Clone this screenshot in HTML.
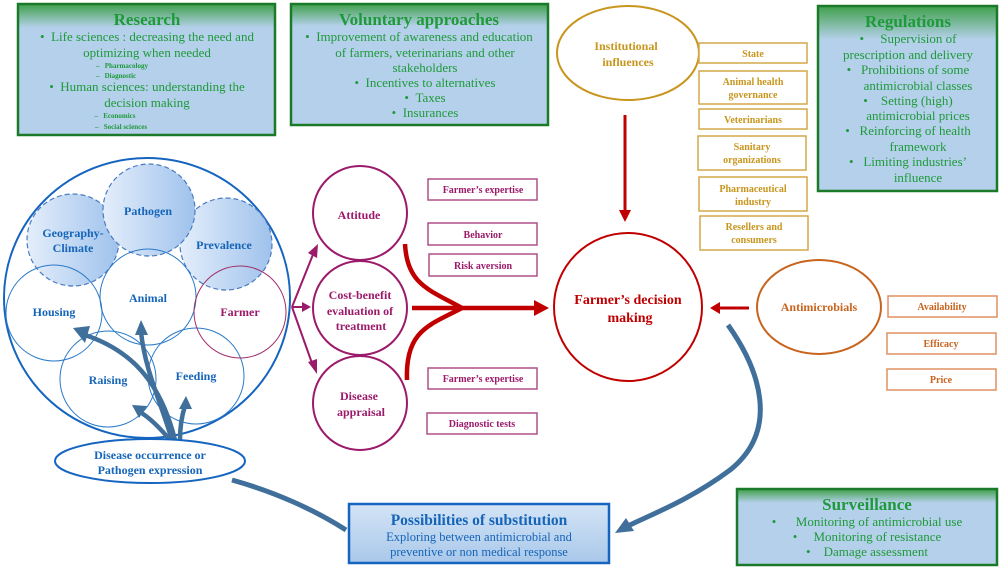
<!DOCTYPE html>
<html><head><meta charset="utf-8"><style>
html,body{margin:0;padding:0;background:#fff}
svg text{font-family:"Liberation Serif",serif}
</style></head><body>
<svg width="1000" height="568" viewBox="0 0 1000 568" xmlns="http://www.w3.org/2000/svg">
<defs>
<linearGradient id="gb" x1="0" y1="0" x2="0" y2="1">
<stop offset="0" stop-color="#3fa04a"/><stop offset="0.18" stop-color="#b4d0ea"/><stop offset="1" stop-color="#b4d0ea"/>
</linearGradient>
<linearGradient id="bb" x1="0" y1="0" x2="0" y2="1">
<stop offset="0" stop-color="#d4e4f6"/><stop offset="1" stop-color="#a9c8ea"/>
</linearGradient>
<linearGradient id="cf" x1="0" y1="0" x2="1" y2="0">
<stop offset="0" stop-color="#e4eefb"/><stop offset="1" stop-color="#9fc2ec"/>
</linearGradient>
</defs>

<g stroke="#1a7a2a" stroke-width="2.5" fill="url(#gb)">
<rect x="18" y="4" width="257" height="131"/>
<rect x="291" y="4" width="257" height="121"/>
<rect x="818" y="6" width="179" height="185"/>
<rect x="737" y="489" width="260" height="76"/>
</g>
<g fill="#1e9a3a" text-anchor="middle">
<text x="147" y="25" font-size="17" font-weight="bold">Research</text>
<text x="147" y="41" font-size="13">•&#160;&#160;Life sciences : decreasing the need and</text>
<text x="147" y="57" font-size="13">optimizing when needed</text>
<text x="122" y="68" font-size="7" font-weight="bold">–&#160;&#160;&#160;Pharmacology</text>
<text x="116" y="78" font-size="7" font-weight="bold">–&#160;&#160;&#160;Diagnostic</text>
<text x="147" y="91" font-size="13">•&#160;&#160;Human sciences: understanding the</text>
<text x="147" y="107" font-size="13">decision making</text>
<text x="115" y="118" font-size="7" font-weight="bold">–&#160;&#160;&#160;Economics</text>
<text x="121" y="129" font-size="7" font-weight="bold">–&#160;&#160;&#160;Social sciences</text>

<text x="419" y="25" font-size="17" font-weight="bold">Voluntary approaches</text>
<text x="419" y="41" font-size="13">•&#160;&#160;Improvement of awareness and education</text>
<text x="425" y="57" font-size="13">of farmers, veterinarians and other</text>
<text x="425" y="72" font-size="13">stakeholders</text>
<text x="425" y="87" font-size="13">•&#160;&#160;Incentives to alternatives</text>
<text x="425" y="102" font-size="13">•&#160;&#160;Taxes</text>
<text x="425" y="117" font-size="13">•&#160;&#160;Insurances</text>

<text x="908" y="27" font-size="17" font-weight="bold">Regulations</text>
<text x="908" y="43" font-size="13">•&#160;&#160;&#160;&#160;&#160;Supervision of</text>
<text x="908" y="59" font-size="13">prescription and delivery</text>
<text x="908" y="74" font-size="13">•&#160;&#160;&#160;Prohibitions of some</text>
<text x="918" y="90" font-size="13">antimicrobial classes</text>
<text x="908" y="105" font-size="13">•&#160;&#160;&#160;&#160;Setting (high)</text>
<text x="918" y="120" font-size="13">antimicrobial prices</text>
<text x="908" y="135" font-size="13">•&#160;&#160;&#160;Reinforcing of health</text>
<text x="918" y="151" font-size="13">framework</text>
<text x="908" y="166" font-size="13">•&#160;&#160;&#160;Limiting industries’</text>
<text x="918" y="182" font-size="13">influence</text>

<text x="867" y="510" font-size="17" font-weight="bold">Surveillance</text>
<text x="867" y="526" font-size="13">•&#160;&#160;&#160;&#160;&#160;&#160;Monitoring of antimicrobial use</text>
<text x="867" y="541" font-size="13">•&#160;&#160;&#160;&#160;&#160;Monitoring of resistance</text>
<text x="867" y="556" font-size="13">•&#160;&#160;&#160;&#160;Damage assessment</text>
</g>

<rect x="349" y="504" width="260" height="59" fill="url(#bb)" stroke="#1565c0" stroke-width="2.5"/>
<g text-anchor="middle" fill="#1565b8">
<text x="479" y="525" font-size="15.5" font-weight="bold">Possibilities of substitution</text>
<text x="479" y="541" font-size="12.5">Exploring between antimicrobial and</text>
<text x="479" y="556" font-size="12.5">preventive or non medical response</text>
</g>

<ellipse cx="628" cy="53" rx="71" ry="47" fill="none" stroke="#c8961e" stroke-width="2"/>
<g text-anchor="middle" fill="#c8961e" font-weight="bold" font-size="12">
<text x="626" y="50">Institutional</text>
<text x="628" y="66">influences</text>
</g>
<g fill="#fff" stroke="#d4a84a" stroke-width="1.5">
<rect x="699" y="43" width="108" height="20"/>
<rect x="699" y="71" width="108" height="33"/>
<rect x="699" y="109" width="108" height="20"/>
<rect x="698" y="136" width="108" height="34"/>
<rect x="699" y="177" width="108" height="34"/>
<rect x="700" y="216" width="108" height="34"/>
</g>
<g text-anchor="middle" fill="#c8961e" font-weight="bold" font-size="10">
<text x="753" y="57">State</text>
<text x="753" y="85">Animal health</text>
<text x="753" y="98">governance</text>
<text x="753" y="123">Veterinarians</text>
<text x="752" y="150">Sanitary</text>
<text x="752" y="163">organizations</text>
<text x="753" y="192">Pharmaceutical</text>
<text x="753" y="205">industry</text>
<text x="754" y="230">Resellers and</text>
<text x="754" y="243">consumers</text>
</g>
<line x1="625" y1="115" x2="625" y2="212" stroke="#c00000" stroke-width="3"/>
<polygon points="619,210 631,210 625,222" fill="#c00000"/>

<circle cx="628" cy="307" r="74" fill="none" stroke="#c00000" stroke-width="2"/>
<g text-anchor="middle" fill="#c00000" font-weight="bold" font-size="14">
<text x="628" y="304">Farmer’s decision</text>
<text x="630" y="322">making</text>
</g>
<line x1="749" y1="308" x2="718" y2="308" stroke="#c00000" stroke-width="3"/>
<polygon points="720,302 720,314 710,308" fill="#c00000"/>

<ellipse cx="819" cy="307" rx="62" ry="47" fill="none" stroke="#c8641e" stroke-width="2"/>
<text x="819" y="311" text-anchor="middle" fill="#c8641e" font-weight="bold" font-size="12">Antimicrobials</text>
<g fill="#fff" stroke="#e09060" stroke-width="1.5">
<rect x="888" y="296" width="109" height="21"/>
<rect x="887" y="333" width="109" height="21"/>
<rect x="887" y="369" width="109" height="21"/>
</g>
<g text-anchor="middle" fill="#c8641e" font-weight="bold" font-size="10">
<text x="942" y="310">Availability</text>
<text x="941" y="347">Efficacy</text>
<text x="941" y="383">Price</text>
</g>

<path d="M728,325 C760,370 780,430 730,470 C690,500 650,515 628,526" fill="none" stroke="#3f6f9a" stroke-width="5"/>
<polygon points="615,533 626,518 634,531" fill="#3f6f9a"/>
<path d="M232,480 C275,492 315,510 346,530" fill="none" stroke="#3f6f9a" stroke-width="5"/>

<ellipse cx="147" cy="298" rx="143" ry="140" fill="none" stroke="#1565c0" stroke-width="2"/>
<g fill="url(#cf)" stroke="#4a7cc0" stroke-width="1.2" stroke-dasharray="5,3">
<circle cx="73" cy="240" r="46"/>
<circle cx="226" cy="244" r="46"/>
<circle cx="149" cy="210" r="46"/>
</g>
<g fill="none" stroke="#2a7ac8" stroke-width="1">
<circle cx="54" cy="313" r="48"/>
<circle cx="148" cy="297" r="48"/>
<circle cx="108" cy="379" r="48"/>
<circle cx="196" cy="376" r="48"/>
</g>
<circle cx="240" cy="312" r="46" fill="none" stroke="#a0306a" stroke-width="1"/>
<g text-anchor="middle" fill="#1565b8" font-weight="bold" font-size="12">
<text x="148" y="215">Pathogen</text>
<text x="73" y="237">Geography-</text>
<text x="73" y="252">Climate</text>
<text x="224" y="249">Prevalence</text>
<text x="54" y="316">Housing</text>
<text x="148" y="302">Animal</text>
<text x="108" y="384">Raising</text>
<text x="196" y="380">Feeding</text>
</g>
<text x="240" y="316" text-anchor="middle" fill="#9b1a6a" font-weight="bold" font-size="12">Farmer</text>

<g fill="none" stroke="#3f6f9a" stroke-width="4.5">
<path d="M175,440 C160,380 130,350 85,335"/>
<path d="M172,440 C160,400 145,370 141,332"/>
<path d="M170,440 C160,428 150,418 140,412"/>
<path d="M180,440 C180,425 182,415 185,406"/>
</g>
<g fill="#3f6f9a">
<polygon points="73,328 90,326 85,343"/>
<polygon points="141,320 135,335 148,335"/>
<polygon points="132,405 147,406 139,418"/>
<polygon points="186,396 179,409 192,409"/>
</g>
<ellipse cx="150" cy="461" rx="95" ry="22" fill="#fff" stroke="#1565c0" stroke-width="2"/>
<g text-anchor="middle" fill="#1565b8" font-weight="bold" font-size="12">
<text x="150" y="459">Disease occurrence or</text>
<text x="150" y="474">Pathogen expression</text>
</g>

<g fill="none" stroke="#9b1a6a" stroke-width="2">
<circle cx="360" cy="213" r="47"/>
<circle cx="360" cy="308" r="47"/>
<circle cx="360" cy="403" r="47"/>
</g>
<g stroke="#9b1a6a" stroke-width="2" fill="none">
<line x1="292" y1="307" x2="314" y2="252"/>
<line x1="292" y1="307" x2="304" y2="307"/>
<line x1="292" y1="307" x2="313" y2="366"/>
</g>
<g fill="#9b1a6a">
<polygon points="318,244 317,258 308,253"/>
<polygon points="311,307 302,302 302,312"/>
<polygon points="317,374 308,362 317,359"/>
</g>
<g text-anchor="middle" fill="#9b1a6a" font-weight="bold" font-size="12">
<text x="359" y="219">Attitude</text>
<text x="360" y="299">Cost-benefit</text>
<text x="360" y="315">evaluation of</text>
<text x="361" y="330">treatment</text>
<text x="359" y="400">Disease</text>
<text x="361" y="416">appraisal</text>
</g>
<g fill="#fff" stroke="#b0508a" stroke-width="1.5">
<rect x="428" y="179" width="109" height="21"/>
<rect x="428" y="223" width="109" height="22"/>
<rect x="429" y="254" width="108" height="22"/>
<rect x="428" y="368" width="109" height="21"/>
<rect x="427" y="413" width="110" height="21"/>
</g>
<g text-anchor="middle" fill="#9b1a6a" font-weight="bold" font-size="10">
<text x="483" y="193">Farmer’s expertise</text>
<text x="483" y="238">Behavior</text>
<text x="483" y="269">Risk aversion</text>
<text x="483" y="382">Farmer’s expertise</text>
<text x="482" y="427">Diagnostic tests</text>
</g>

<g fill="none" stroke="#c00000" stroke-width="4.5">
<path d="M405,244 C407,285 430,290 462,308"/>
<path d="M407,380 C405,330 430,325 462,308"/>
<line x1="412" y1="308" x2="536" y2="308"/>
</g>
<polygon points="534,300 534,316 549,308" fill="#c00000"/>
</svg>
</body></html>
